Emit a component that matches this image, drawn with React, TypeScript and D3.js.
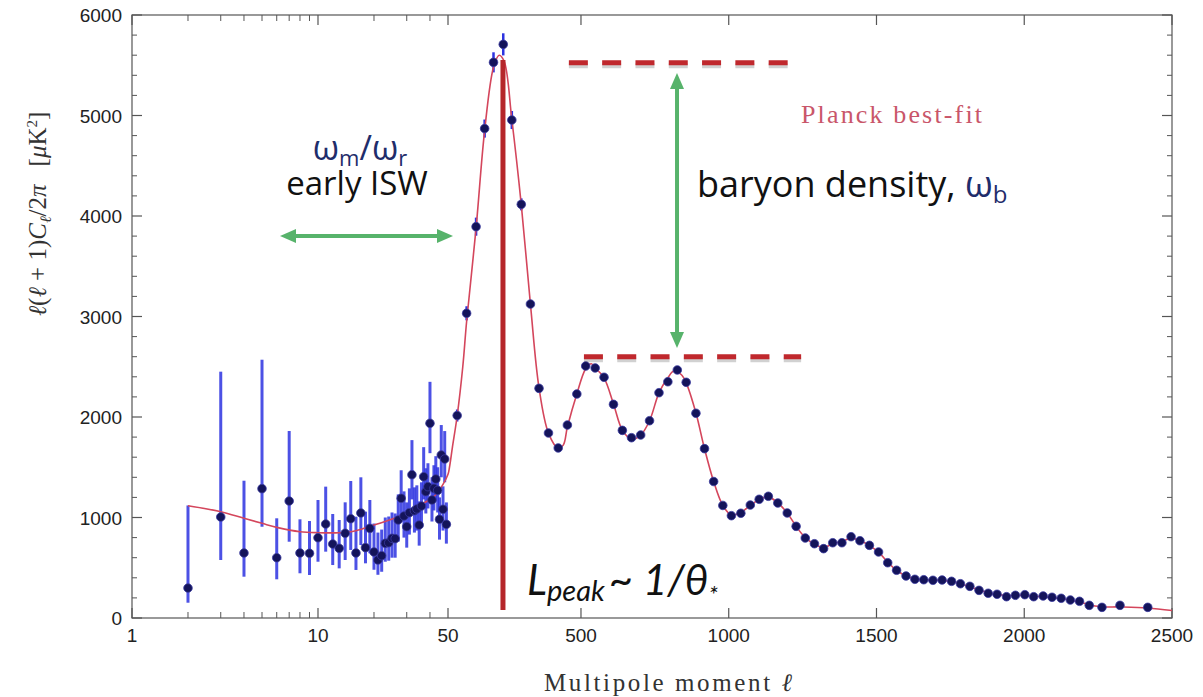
import React from 'react';
import * as d3 from 'd3';

const W = 1203;
const H = 697;

// low multipoles, l = 2..49 : value, error bar bottom, error bar top
const lowEll = d3.range(2, 50);
const lowVal = [298, 1005, 647, 1287, 600, 1164, 647, 644, 799, 935, 736, 693, 843, 988, 647, 1045, 700, 892, 657, 577, 620, 743, 749, 793, 790, 975, 1191, 1015, 909, 1048, 1426, 1068, 1085, 925, 1114, 1406, 1257, 1307, 1937, 1174, 1290, 1383, 1270, 982, 1622, 1082, 1582, 932];
const lowLo = [152, 577, 411, 908, 385, 759, 445, 428, 560, 660, 527, 494, 577, 677, 478, 726, 544, 644, 480, 430, 460, 560, 570, 600, 600, 760, 960, 800, 700, 830, 1180, 850, 870, 720, 900, 1180, 1040, 1090, 1640, 960, 1070, 1160, 1050, 780, 1400, 870, 1350, 740];
const lowHi = [1120, 2451, 1366, 2570, 992, 1861, 982, 965, 1174, 1307, 1035, 975, 1151, 1363, 1008, 1400, 1058, 1174, 940, 850, 880, 1000, 1010, 1050, 1040, 1230, 1470, 1260, 1150, 1290, 1770, 1300, 1320, 1160, 1350, 1700, 1490, 1540, 2350, 1400, 1520, 1610, 1500, 1200, 1920, 1310, 1860, 1150];

// binned high multipoles
const highEll = [81, 113, 145, 174, 204, 237, 266, 298, 329, 358, 390, 423, 454, 486, 516, 548, 578, 610, 640, 671, 702, 732, 764, 794, 826, 856, 889, 918, 949, 980, 1009, 1041, 1073, 1103, 1134, 1166, 1198, 1228, 1259, 1290, 1321, 1352, 1383, 1414, 1444, 1476, 1507, 1538, 1568, 1600, 1630, 1660, 1691, 1722, 1754, 1784, 1816, 1847, 1878, 1908, 1940, 1970, 2002, 2032, 2064, 2094, 2125, 2156, 2187, 2220, 2263, 2324, 2418];
const highVal = [2015, 3032, 3894, 4870, 5529, 5708, 4955, 4116, 3124, 2285, 1841, 1692, 1920, 2229, 2507, 2488, 2395, 2126, 1867, 1794, 1821, 1963, 2242, 2351, 2468, 2345, 2037, 1685, 1358, 1120, 1018, 1042, 1124, 1181, 1211, 1144, 1045, 912, 796, 739, 690, 749, 749, 809, 769, 723, 657, 550, 475, 418, 385, 381, 375, 378, 365, 341, 315, 275, 246, 236, 212, 226, 232, 212, 219, 206, 196, 179, 166, 126, 106, 126, 106];
const highErr = [60, 70, 90, 90, 100, 110, 90, 60, 40, 30, 30, 30, 30, 30, 30, 30, 30, 30, 30, 30, 30, 30, 30, 30, 30, 30, 30, 30, 30, 30, 30, 30, 30, 30, 30, 30, 30, 30, 30, 30, 30, 30, 30, 30, 30, 30, 30, 30, 30, 30, 30, 30, 30, 30, 30, 30, 30, 30, 30, 30, 30, 30, 30, 30, 30, 30, 30, 30, 30, 30, 30, 30, 30];

// Planck best-fit model
const fitEll = [2, 3, 4, 5, 6, 8, 10, 13, 16, 20, 27, 34, 42, 47, 50, 55, 65, 81, 100, 113, 145, 174, 204, 223, 240, 266, 298, 329, 358, 390, 423, 440, 454, 486, 516, 535, 548, 578, 610, 640, 671, 702, 732, 764, 794, 815, 840, 856, 889, 918, 949, 980, 1009, 1041, 1073, 1103, 1134, 1166, 1198, 1228, 1259, 1290, 1321, 1352, 1383, 1414, 1444, 1476, 1507, 1538, 1568, 1600, 1630, 1660, 1722, 1754, 1784, 1816, 1847, 1878, 1908, 1940, 1970, 2002, 2032, 2064, 2094, 2125, 2156, 2187, 2220, 2263, 2324, 2418, 2500];
const fitVal = [1117, 1058, 992, 942, 902, 859, 849, 849, 869, 925, 1008, 1108, 1207, 1330, 1430, 1500, 1700, 2010, 2500, 2950, 3880, 4850, 5480, 5600, 5540, 4960, 4110, 3120, 2290, 1840, 1690, 1720, 1900, 2230, 2480, 2530, 2490, 2390, 2130, 1870, 1780, 1820, 1963, 2240, 2390, 2460, 2420, 2340, 2040, 1685, 1358, 1120, 1025, 1050, 1120, 1180, 1205, 1145, 1045, 912, 800, 735, 700, 740, 760, 795, 770, 720, 655, 555, 475, 418, 388, 380, 375, 365, 340, 312, 278, 250, 236, 222, 225, 225, 215, 212, 204, 194, 178, 162, 130, 112, 110, 100, 75];

const yTicks = [0, 1000, 2000, 3000, 4000, 5000, 6000];
const xTickLabels = [1, 10, 50, 500, 1000, 1500, 2000, 2500];
const xMinorLog = [2, 3, 4, 5, 6, 7, 8, 9, 20, 30, 40];

// annotations, in data units
const peakEll = 236;
const peakTop = 5552;
const dashTop = { l0: 459, l1: 1200, v: 5525 };
const dashBottom = { l0: 510, l1: 1245, v: 2600 };
const vArrow = { l: 825, v0: 5423, v1: 2687 };
const hArrow = { l0: 6.25, l1: 67, v: 3801 };

const xLog = d3.scaleLog().domain([1, 50]).range([132, 448]);
const xLin = d3.scaleLinear().domain([50, 2500]).range([448, 1172]);
const x = (l: number) => (l <= 50 ? xLog(l) : xLin(l));
const y = d3.scaleLinear().domain([0, 6000]).range([618, 15]);

const green = '#57b36b';
const dashRed = '#c0282d';
const sans = "'Open Sans', Lato, sans-serif";

export default function App() {
  const [L, R] = [132, 1172];
  const [T, B] = [15, 618];

  const fitLine = d3
    .line<number>()
    .x((_, i) => x(fitEll[i]))
    .y((d) => y(d))
    .curve(d3.curveCatmullRom.alpha(0.5));

  const yMinor = d3.range(0, 6001, 200).filter((v) => v % 1000 !== 0);

  const hx0 = x(hArrow.l0), hx1 = x(hArrow.l1), hy = y(hArrow.v);
  const vx = x(vArrow.l), vy0 = y(vArrow.v0), vy1 = y(vArrow.v1);

  const dashes = (d: { l0: number; l1: number; v: number }, k: string) => (
    <g key={k}>
      <line x1={x(d.l0)} x2={x(d.l1)} y1={y(d.v) + 3} y2={y(d.v) + 3} stroke="#000" strokeOpacity={0.18} strokeWidth={5} strokeDasharray="19 14.3" />
      <line x1={x(d.l0)} x2={x(d.l1)} y1={y(d.v)} y2={y(d.v)} stroke={dashRed} strokeWidth={5} strokeDasharray="19 14.3" />
    </g>
  );

  return (
    <svg width={W} height={H} style={{ position: 'absolute', left: 0, top: 0, background: '#fff' }}>
      <rect width={W} height={H} fill="#fff" />

      {/* frame and ticks */}
      <rect x={L} y={T} width={R - L} height={B - T} fill="none" stroke="#555" strokeWidth={1.2} />
      {xTickLabels.map((t) => (
        <g key={'xm' + t} stroke="#555" strokeWidth={1.2}>
          <line x1={x(t)} x2={x(t)} y1={B} y2={B - 10} />
          <line x1={x(t)} x2={x(t)} y1={T} y2={T + 10} />
        </g>
      ))}
      {xMinorLog.map((t) => (
        <g key={'xn' + t} stroke="#555" strokeWidth={1}>
          <line x1={x(t)} x2={x(t)} y1={B} y2={B - 6} />
          <line x1={x(t)} x2={x(t)} y1={T} y2={T + 6} />
        </g>
      ))}
      {yTicks.map((t) => (
        <g key={'ym' + t} stroke="#555" strokeWidth={1.2}>
          <line x1={L} x2={L + 10} y1={y(t)} y2={y(t)} />
          <line x1={R} x2={R - 10} y1={y(t)} y2={y(t)} />
        </g>
      ))}
      {yMinor.map((t) => (
        <g key={'yn' + t} stroke="#555" strokeWidth={1}>
          <line x1={L} x2={L + 5} y1={y(t)} y2={y(t)} />
          <line x1={R} x2={R - 5} y1={y(t)} y2={y(t)} />
        </g>
      ))}
      {yTicks.map((t) => (
        <text key={'yl' + t} x={L - 10} y={y(t) + 7} textAnchor="end" fontFamily="Liberation Sans, Arial, sans-serif" fontSize={19} fill="#222">
          {t}
        </text>
      ))}
      {xTickLabels.map((t) => (
        <text key={'xl' + t} x={x(t)} y={B + 24} textAnchor="middle" fontFamily="Liberation Sans, Arial, sans-serif" fontSize={19} fill="#222">
          {t}
        </text>
      ))}

      {/* axis titles */}
      <text x={544} y={691} textLength={248} lengthAdjust="spacing" fontFamily="Liberation Serif, serif" fontSize={25} fill="#333">
        Multipole moment <tspan fontStyle="italic">ℓ</tspan>
      </text>
      <text transform="translate(46,214) rotate(-90)" textAnchor="middle" fontFamily="Liberation Serif, serif" fontSize={25} fill="#333">
        <tspan fontStyle="italic">ℓ</tspan>(<tspan fontStyle="italic">ℓ</tspan> + 1)<tspan fontStyle="italic">C</tspan>
        <tspan fontStyle="italic" fontSize={16} dy={5}>ℓ</tspan>
        <tspan dy={-5}>/2</tspan><tspan fontStyle="italic">π</tspan>
        <tspan dx={18}>[</tspan><tspan fontStyle="italic">μ</tspan>K<tspan fontSize={15} dy={-9}>2</tspan><tspan dy={9}>]</tspan>
      </text>

      {/* low-l error bars */}
      {lowEll.map((l, i) => (
        <line key={'le' + l} x1={x(l)} x2={x(l)} y1={y(lowLo[i])} y2={y(lowHi[i])} stroke="#2d33e0" strokeOpacity={0.85} strokeWidth={3} />
      ))}
      {highEll.map((l, i) => (
        <line key={'he' + l} x1={x(l)} x2={x(l)} y1={y(highVal[i] - highErr[i])} y2={y(highVal[i] + highErr[i])} stroke="#2d33e0" strokeWidth={2.5} />
      ))}

      {/* best fit */}
      <path d={fitLine(fitVal) || ''} fill="none" stroke="#d4465c" strokeWidth={1.6} />

      {/* data points */}
      {lowEll.map((l, i) => (
        <circle key={'lp' + l} cx={x(l)} cy={y(lowVal[i])} r={4.3} fill="#14145a" stroke="#3a3aa0" strokeWidth={0.8} />
      ))}
      {highEll.map((l, i) => (
        <circle key={'hp' + l} cx={x(l)} cy={y(highVal[i])} r={4.3} fill="#14145a" stroke="#3a3aa0" strokeWidth={0.8} />
      ))}

      {/* peak marker */}
      <line x1={x(peakEll)} x2={x(peakEll)} y1={y(peakTop)} y2={y(80)} stroke="#b5262a" strokeWidth={5} />

      {/* dashed levels */}
      {dashes(dashTop, 'dt')}
      {dashes(dashBottom, 'db')}

      {/* vertical green arrow */}
      <line x1={vx} x2={vx} y1={vy0 + 14} y2={vy1 - 14} stroke={green} strokeWidth={4} />
      <path d={`M${vx},${vy0} L${vx - 7},${vy0 + 16} L${vx + 7},${vy0 + 16} Z`} fill={green} />
      <path d={`M${vx},${vy1} L${vx - 7},${vy1 - 16} L${vx + 7},${vy1 - 16} Z`} fill={green} />

      {/* horizontal green arrow */}
      <line x1={hx0 + 14} x2={hx1 - 14} y1={hy} y2={hy} stroke={green} strokeWidth={4} />
      <path d={`M${hx0},${hy} L${hx0 + 16},${hy - 7} L${hx0 + 16},${hy + 7} Z`} fill={green} />
      <path d={`M${hx1},${hy} L${hx1 - 16},${hy - 7} L${hx1 - 16},${hy + 7} Z`} fill={green} />

      {/* annotation texts */}
      <text x={360} y={160} textAnchor="middle" fontFamily={sans} fontSize={34} fill="#1f2d6b">
        ω<tspan fontSize={22} dy={6}>m</tspan><tspan dy={-6}>/ω</tspan><tspan fontSize={22} dy={6}>r</tspan>
      </text>
      <text x={357} y={195} textAnchor="middle" fontFamily={sans} fontSize={33} fill="#111">
        early ISW
      </text>
      <text x={697} y={197} fontFamily={sans} fontSize={36} fill="#111">
        baryon density, <tspan fill="#1f2d6b">ω</tspan><tspan fill="#1f2d6b" fontSize={24} dy={6}>b</tspan>
      </text>
      <text x={801} y={123} textLength={181} lengthAdjust="spacing" fontFamily="Liberation Serif, serif" fontSize={26} fill="#c9566a">
        Planck best-fit
      </text>
      <text x={527} y={595} fontFamily="Lato, 'Open Sans', sans-serif" fontStyle="italic" fontSize={42} fill="#111">
        L<tspan fontSize={29} dy={6}>peak</tspan><tspan dy={-6} dx={4}>~ 1/θ</tspan><tspan fontSize={24} dy={8}>*</tspan>
      </text>
    </svg>
  );
}
